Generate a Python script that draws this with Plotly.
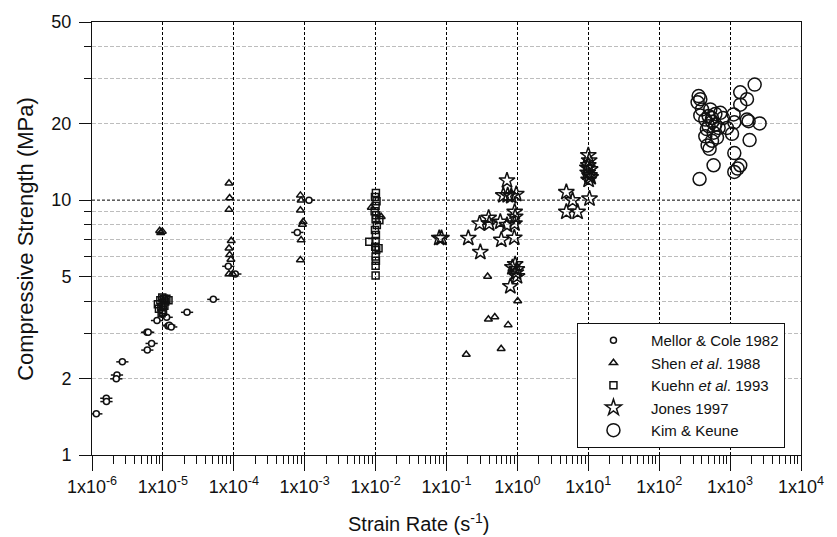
import plotly.graph_objects as go

# ---------------- data ----------------
mc_x = [1.15e-6, 1.59e-6, 1.6e-6, 2.25e-6, 2.2e-6, 2.68e-6, 5.97e-6, 6.2e-6, 6.93e-6, 6.03e-6,
        8.26e-6, 1.13e-5, 1.18e-5, 1.23e-5, 1.31e-5, 2.19e-5, 5.14e-5, 8.36e-5, 1.05e-4, 7.87e-4, 1.15e-3]
mc_y = [1.45, 1.67, 1.62, 2.06, 1.99, 2.32, 3.03, 3.03, 2.74, 2.58,
        3.37, 3.47, 3.21, 3.23, 3.18, 3.63, 4.08, 5.50, 5.13, 7.47, 10.0]

sh_x = [9.0e-6, 9.8e-6, 9.3e-6, 8.56e-5, 8.73e-5, 8.56e-5, 9.2e-5, 8.56e-5, 8.73e-5, 9.1e-5,
        8.56e-5, 9.6e-5, 8.7e-4, 8.9e-4, 8.7e-4, 9.5e-4, 9.3e-4, 8.9e-4, 8.7e-4, 8.7e-3,
        1.2e-2, 0.19, 0.38, 0.39, 0.48, 0.59, 0.74, 1.01]
sh_y = [7.58, 7.53, 7.45, 11.65, 10.2, 9.18, 6.93, 6.47, 6.10, 5.85,
        5.13, 5.13, 10.44, 9.98, 9.13, 8.22, 8.02, 6.97, 5.82, 9.36,
        8.60, 2.48, 5.02, 3.41, 3.48, 2.61, 3.24, 4.02]

ku_x = [8.5e-6, 8.8e-6, 9.2e-6, 9.5e-6, 9.8e-6, 9.9e-6, 1.0e-5, 1.03e-5, 1.05e-5, 1.08e-5,
        1.12e-5, 1.2e-5, 9.6e-6, 1.0e-5,
        1.01e-2, 9.8e-3, 1.03e-2, 1.0e-2, 9.7e-3, 1.02e-2, 1.0e-2, 1.04e-2, 9.8e-3, 1.01e-2,
        1.0e-2, 9.9e-3, 1.02e-2, 1.0e-2, 1.01e-2, 1.0e-2, 1.0e-2, 8.15e-3, 1.1e-2, 1.13e-2]
ku_y = [3.9, 3.75, 4.05, 3.8, 4.15, 3.95, 3.7, 4.1, 3.85, 4.0,
        4.1, 4.05, 3.6, 3.65,
        10.66, 10.28, 9.89, 9.49, 9.05, 8.73, 8.42, 7.98, 7.63, 7.30,
        6.92, 6.57, 6.38, 6.01, 5.78, 5.53, 5.06, 6.87, 6.47, 8.35]

jo_x = [0.079, 0.085, 0.203, 0.30, 0.293, 0.393, 0.40, 0.574, 0.713, 0.593,
        0.904, 0.915, 0.93, 0.91, 0.713, 0.633, 0.73, 0.82, 0.964, 0.85,
        0.93, 0.98, 0.95, 0.987, 0.795, 4.9, 6.01, 4.9, 7.06, 10.4,
        10.0, 10.3, 10.0, 10.6, 9.8, 10.4, 10.1, 10.8, 9.7]
jo_y = [7.1, 7.1, 7.1, 6.25, 8.09, 8.52, 8.09, 8.22, 7.98, 6.98,
        7.12, 8.99, 8.60, 8.09, 11.94, 10.44, 10.44, 10.36, 10.56, 5.45,
        5.6, 5.35, 5.2, 5.02, 4.59, 10.75, 9.98, 8.99, 8.99, 10.13,
        15.0, 14.3, 13.7, 13.2, 12.8, 12.5, 12.0, 12.3, 13.4]

km_x = [2220, 1390, 1730, 1390, 360, 380, 348, 526, 380, 498,
        447, 556, 794, 1120, 1146, 1730, 1824, 2606, 618, 498,
        689, 904, 585, 1064, 447, 653, 556, 482, 514, 1884,
        1146, 585, 1390, 1276, 1146, 371, 728, 402, 560, 620, 470]
km_y = [28.4, 26.5, 24.9, 23.7, 25.6, 24.9, 24.2, 22.7, 21.5, 21.4,
        20.7, 21.0, 21.0, 21.7, 20.2, 20.7, 20.4, 20.0, 19.8, 19.5,
        19.2, 19.2, 18.4, 18.2, 17.8, 17.6, 17.1, 16.4, 15.9, 17.2,
        15.3, 13.7, 13.7, 13.3, 12.9, 12.1, 22.0, 22.7, 20.3, 21.8, 19.0]

x_tickvals = [1e-6, 1e-5, 1e-4, 1e-3, 1e-2, 1e-1, 1e0, 1e1, 1e2, 1e3, 1e4]
x_ticktext = ["1x10<sup>-6</sup>", "1x10<sup>-5</sup>", "1x10<sup>-4</sup>", "1x10<sup>-3</sup>",
              "1x10<sup>-2</sup>", "1x10<sup>-1</sup>", "1x10<sup>0</sup>", "1x10<sup>1</sup>",
              "1x10<sup>2</sup>", "1x10<sup>3</sup>", "1x10<sup>4</sup>"]
y_tickvals = [1, 2, 5, 10, 20, 50]
y_minorvals = [2, 3, 4, 5, 6, 7, 8, 9, 20, 30, 40]

names = ["Mellor &amp; Cole 1982", "Shen <i>et al</i>. 1988", "Kuehn <i>et al</i>. 1993",
         "Jones 1997", "Kim &amp; Keune"]

# ---------------- figure ----------------
FONT = "Liberation Sans, Arial, Helvetica, sans-serif"
INK = "#111111"
fig = go.Figure()

fig.add_trace(go.Scatter(
    x=mc_x, y=mc_y, mode="markers", name=names[0],
    marker=dict(symbol="circle", size=6, color="white", line=dict(color=INK, width=1.5)),
    error_x=dict(type="percent", symmetric=False, value=22, valueminus=18,
                 thickness=1.5, width=0, color=INK)))
fig.add_trace(go.Scatter(
    x=sh_x, y=sh_y, mode="markers", name=names[1],
    marker=dict(symbol="triangle-up-open", size=7, color=INK, line=dict(color=INK, width=1.5))))
fig.add_trace(go.Scatter(
    x=ku_x, y=ku_y, mode="markers", name=names[2],
    marker=dict(symbol="square-open", size=7, color=INK, line=dict(color=INK, width=1.5))))
fig.add_trace(go.Scatter(
    x=jo_x, y=jo_y, mode="markers", name=names[3],
    marker=dict(symbol="star-open", size=12, color=INK, line=dict(color=INK, width=1.5))))
fig.add_trace(go.Scatter(
    x=km_x, y=km_y, mode="markers", name=names[4],
    marker=dict(symbol="circle-open", size=13, color=INK, line=dict(color=INK, width=1.5))))

# black dashed reference grid line at 10 MPa
fig.add_shape(type="line", xref="paper", x0=0, x1=1, yref="y", y0=10, y1=10,
              line=dict(color="black", width=1, dash="3px,2px"), layer="below")

fig.update_xaxes(
    type="log", range=[-6, 4],
    tickmode="array", tickvals=x_tickvals, ticktext=x_ticktext,
    ticks="outside", ticklen=15, tickwidth=1, tickcolor=INK,
    showline=True, linecolor=INK, linewidth=1, mirror=True,
    showgrid=True, gridcolor="black", gridwidth=1, griddash="3px,2px",
    zeroline=False,
    tickfont=dict(family=FONT, size=18, color=INK),
    minor=dict(ticks="outside", ticklen=8, tickwidth=1, tickcolor=INK, dtick="D1", showgrid=False),
)
fig.update_yaxes(
    type="log", range=[0, 1.69897],
    tickmode="array", tickvals=y_tickvals, ticktext=[str(v) for v in y_tickvals],
    ticks="outside", ticklen=12, tickwidth=1, tickcolor=INK,
    showline=True, linecolor=INK, linewidth=1, mirror=True,
    showgrid=False, zeroline=False, ticklabelstandoff=4,
    tickfont=dict(family=FONT, size=18, color=INK),
    minor=dict(tickmode="array", tickvals=y_minorvals, ticks="outside", ticklen=7,
               tickwidth=1, tickcolor=INK, showgrid=True, gridcolor="#bdbdbd",
               gridwidth=1, griddash="4px,2px"),
)

fig.update_layout(
    width=837, height=537,
    margin=dict(l=92, r=36, t=18, b=82),
    paper_bgcolor="white", plot_bgcolor="white",
    font=dict(family=FONT, color=INK),
    showlegend=True,
    legend=dict(x=0.684, y=0.305, xanchor="left", yanchor="top",
                bgcolor="white", bordercolor=INK, borderwidth=1,
                font=dict(family=FONT, size=15, color=INK),
                itemwidth=65, indentation=-2),
    annotations=[
        dict(text="Compressive Strength (MPa)", xref="paper", yref="paper",
             x=-0.094, y=0.5, textangle=-90, showarrow=False,
             xanchor="center", yanchor="middle",
             font=dict(family=FONT, size=22, color=INK)),
        dict(text="Strain Rate (s<sup>-1</sup>)", xref="paper", yref="paper",
             x=0.46, y=-0.157, showarrow=False, xanchor="center", yanchor="middle",
             font=dict(family=FONT, size=20, color=INK)),
    ],
)

fig.write_html("out.html", config={"displayModeBar": False},
               post_script="document.body.style.margin='0';document.body.style.padding='0';")
